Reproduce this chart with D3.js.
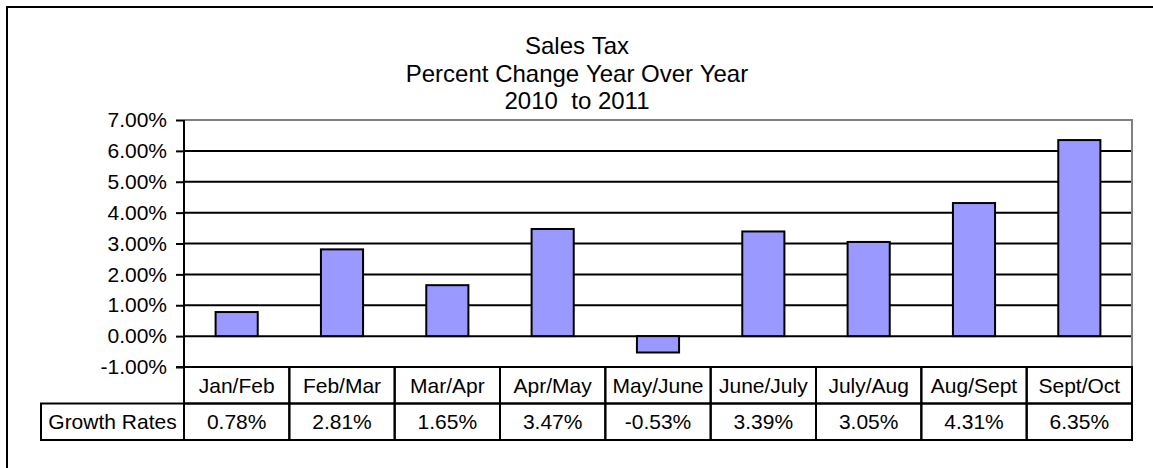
<!DOCTYPE html>
<meta charset="utf-8">
<style>
body { margin: 0; background: #fff; }
svg { display: block; font-family: "Liberation Sans", Arial, sans-serif; }
.title { font-size: 24px; text-anchor: middle; }
.grid line { stroke: #000; stroke-width: 2; }
.bar { fill: #9999ff; stroke: #000; stroke-width: 2; }
.axis text { font-size: 21px; fill: #000; }
.axis path, .axis line { stroke: #000; stroke-width: 2; }
.cell { fill: none; stroke: #000; stroke-width: 2; }
.table text { font-size: 21px; text-anchor: middle; }
</style>
<svg width="1153" height="468"></svg>
<script src="https://cdn.jsdelivr.net/npm/d3@7"></script>
<script>

var titleLines = ["Sales Tax", "Percent Change Year Over Year", "2010  to 2011"];
var categories = ["Jan/Feb", "Feb/Mar", "Mar/Apr", "Apr/May", "May/June", "June/July", "July/Aug", "Aug/Sept", "Sept/Oct"];
var growth = [0.0078, 0.0281, 0.0165, 0.0347, -0.0053, 0.0339, 0.0305, 0.0431, 0.0635];
var rowLabel = "Growth Rates";
var yTicks = [-0.01, 0, 0.01, 0.02, 0.03, 0.04, 0.05, 0.06, 0.07];

var svg = d3.select("svg");

var plotLeft = 184, plotRight = 1132, plotTop = 120, plotBottom = 367;
var rowH = 36.5;

var pct = d3.formatLocale({decimal: ".", thousands: ",", grouping: [3], currency: ["$", ""], minus: "-"}).format(".2%");

// outer frame (right and bottom edges are off the picture)
svg.append("path")
    .attr("d", "M7,468V7H1153")
    .attr("fill", "none")
    .attr("stroke", "#000")
    .attr("stroke-width", 2);

svg.selectAll(".title")
    .data(titleLines)
  .enter().append("text")
    .attr("class", "title")
    .attr("x", 577)
    .attr("y", function(d, i) { return 54 + i * 27.5; })
    .text(function(d) { return d.replace(/ /g, "\u00a0"); });

var x = d3.scaleBand()
    .domain(categories)
    .range([plotLeft, plotRight])
    .paddingInner(0.6)
    .paddingOuter(0.3);

var xCell = d3.scaleBand()
    .domain(categories)
    .range([plotLeft, plotRight]);

var y = d3.scaleLinear()
    .domain([-0.01, 0.07])
    .range([plotBottom, plotTop]);

// gridlines
svg.append("g")
    .attr("class", "grid")
  .selectAll("line")
    .data(yTicks.filter(function(d) { return d > -0.01 && d < 0.07; }))
  .enter().append("line")
    .attr("x1", plotLeft)
    .attr("x2", plotRight)
    .attr("y1", function(d) { return y(d); })
    .attr("y2", function(d) { return y(d); });

// plot border, top and right
svg.append("path")
    .attr("d", "M" + plotLeft + "," + y(0.07) + "H" + plotRight + "V" + plotBottom)
    .attr("fill", "none")
    .attr("stroke", "#808080")
    .attr("stroke-width", 2);

svg.append("g")
  .selectAll("rect")
    .data(growth)
  .enter().append("rect")
    .attr("class", "bar")
    .attr("x", function(d, i) { return x(categories[i]); })
    .attr("width", x.bandwidth())
    .attr("y", function(d) { return y(Math.max(0, d)); })
    .attr("height", function(d) { return Math.abs(y(d) - y(0)); });

svg.append("g")
    .attr("class", "axis")
    .attr("transform", "translate(" + plotLeft + ",0)")
    .call(d3.axisLeft(y).tickValues(yTicks).tickSize(8).tickSizeOuter(0).tickPadding(9).tickFormat(pct));

svg.select(".axis .domain").attr("d", "M0," + plotTop + "V" + plotBottom);

// bottom axis line
svg.append("line")
    .attr("x1", plotLeft - 8).attr("x2", plotRight)
    .attr("y1", plotBottom).attr("y2", plotBottom)
    .attr("stroke", "#000").attr("stroke-width", 2);

// data table
var table = svg.append("g").attr("class", "table");

table.selectAll(".head")
    .data(categories)
  .enter().append("rect")
    .attr("class", "cell")
    .attr("x", function(d) { return xCell(d); })
    .attr("y", plotBottom)
    .attr("width", xCell.bandwidth())
    .attr("height", rowH);

table.selectAll(".val")
    .data(categories)
  .enter().append("rect")
    .attr("class", "cell")
    .attr("x", function(d) { return xCell(d); })
    .attr("y", plotBottom + rowH)
    .attr("width", xCell.bandwidth())
    .attr("height", rowH);

table.append("rect")
    .attr("class", "cell")
    .attr("x", 41)
    .attr("y", plotBottom + rowH)
    .attr("width", plotLeft - 41)
    .attr("height", rowH);

table.selectAll(".htext")
    .data(categories)
  .enter().append("text")
    .attr("x", function(d) { return xCell(d) + xCell.bandwidth() / 2; })
    .attr("y", plotBottom + rowH / 2 + 7.5)
    .text(function(d) { return d; });

table.selectAll(".vtext")
    .data(growth)
  .enter().append("text")
    .attr("x", function(d, i) { return xCell(categories[i]) + xCell.bandwidth() / 2; })
    .attr("y", plotBottom + rowH * 1.5 + 7.5)
    .text(function(d) { return pct(d); });

table.append("text")
    .attr("x", (41 + plotLeft) / 2)
    .attr("y", plotBottom + rowH * 1.5 + 7.5)
    .text(rowLabel);

</script>
